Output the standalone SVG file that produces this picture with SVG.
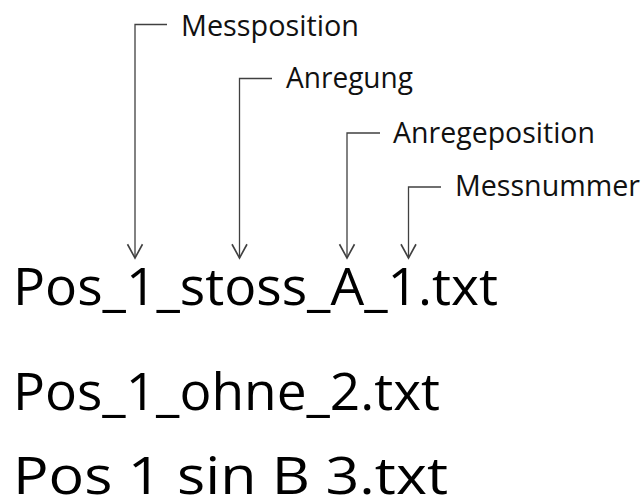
<svg xmlns="http://www.w3.org/2000/svg" width="644" height="502" viewBox="0 0 644 502">
<style>
.big{font-family:"Open Sans","Noto Sans",sans-serif;font-size:51px;fill:#000}
.lbl{font-family:"Open Sans","Noto Sans",sans-serif;font-size:29px;fill:#111}
.conn{fill:none;stroke:#404040;stroke-width:1.3;marker-end:url(#arr)}
</style>
<defs>
<marker id="arr" markerUnits="userSpaceOnUse" orient="auto" markerWidth="20" markerHeight="20" refX="0" refY="0" viewBox="-12 -8 14 16" overflow="visible">
<path d="M-11,-6 L0,0 L-11,6" fill="none" stroke="#404040" stroke-width="1.3"/>
</marker>
</defs>
<rect width="644" height="502" fill="#fff"/>
<g id="connectors">
<path class="conn" d="M167,24.5 H135 V258"/>
<path class="conn" d="M272,78.5 H239.5 V258"/>
<path class="conn" d="M380,133 H347 V258"/>
<path class="conn" d="M441,187 H408.5 V258"/>
</g>
<g id="label-messposition"><text class="lbl" x="181" y="36" textLength="178" lengthAdjust="spacingAndGlyphs">Messposition</text></g>
<g id="label-anregung"><text class="lbl" x="286" y="88" textLength="127" lengthAdjust="spacingAndGlyphs">Anregung</text></g>
<g id="label-anregeposition"><text class="lbl" x="393" y="143" textLength="202" lengthAdjust="spacingAndGlyphs">Anregeposition</text></g>
<g id="label-messnummer"><text class="lbl" x="455" y="196" textLength="185" lengthAdjust="spacingAndGlyphs">Messnummer</text></g>
<g id="file-1"><text class="big" x="13" y="305" textLength="485" lengthAdjust="spacingAndGlyphs">Pos_1_stoss_A_1.txt</text></g>
<g id="file-2"><text class="big" x="13" y="410" textLength="427" lengthAdjust="spacingAndGlyphs">Pos_1_ohne_2.txt</text></g>
<g id="file-3"><text class="big" x="13" y="494" textLength="435" lengthAdjust="spacingAndGlyphs" xml:space="preserve">Pos 1 sin B 3.txt</text></g>
</svg>
